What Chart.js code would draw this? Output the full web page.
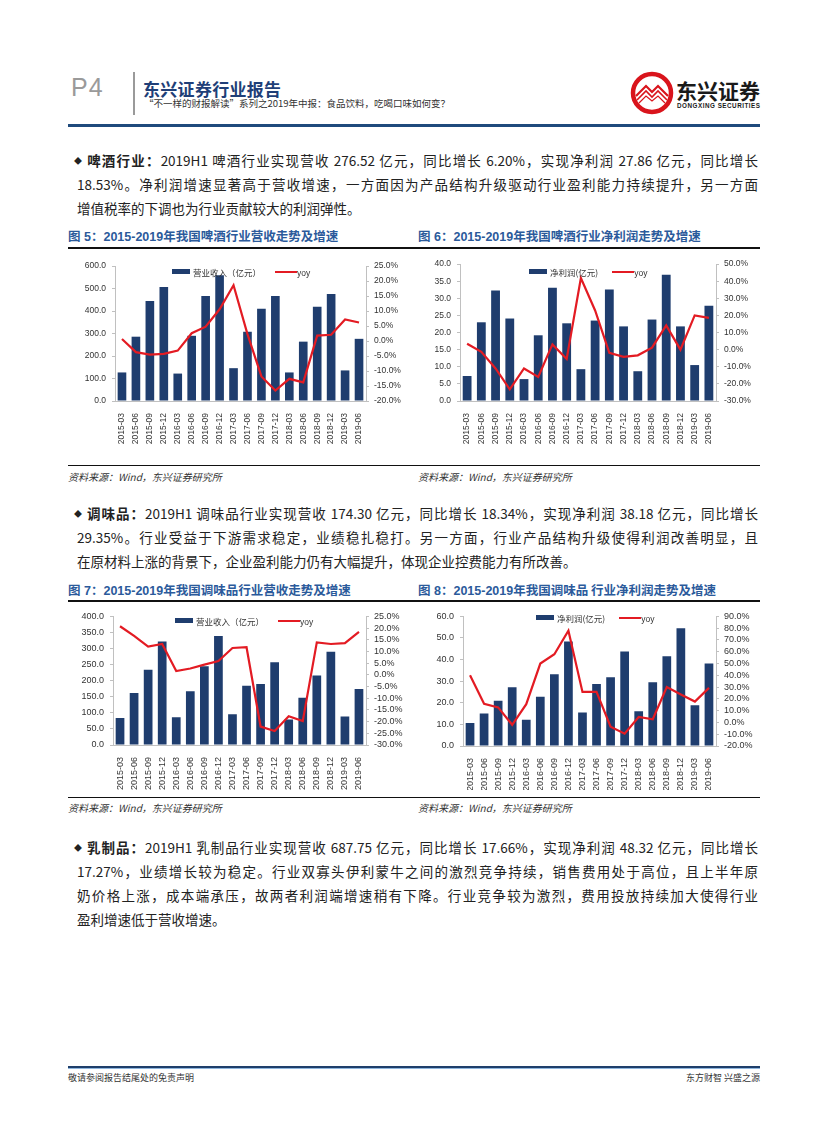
<!DOCTYPE html>
<html><head><meta charset="utf-8">
<script src="https://cdn.jsdelivr.net/npm/chart.js@4/dist/chart.umd.min.js"></script>
<style>
html,body{margin:0;padding:0;background:#fff;}
body{width:827px;height:1122px;position:relative;overflow:hidden;font-family:"Noto Sans CJK SC","Liberation Sans",sans-serif;color:#222;}
.abs{position:absolute;}
.p4{left:71px;top:73px;font-family:"Liberation Sans",Arial,sans-serif;font-size:25px;color:#9a9a9a;font-weight:300;letter-spacing:1px;}
.vline{left:133px;top:72px;width:2px;height:43px;background:#9a9a9a;}
.title{left:143px;top:76px;font-size:17px;font-weight:bold;color:#1f3f78;letter-spacing:0.3px;}
.sub{left:144px;top:96px;font-size:9.5px;color:#333;font-family:"Noto Sans CJK SC";}
.topline{left:68px;top:124px;width:692px;height:3px;background:#1f4a7c;}
.line{position:absolute;left:77px;width:681px;height:24px;line-height:24px;font-size:13.5px;text-align:justify;text-align-last:justify;white-space:nowrap;}
.line.first{left:74px;width:684px;}
.line.last{text-align-last:left;}
.bullet{font-size:8px;vertical-align:2px;margin-right:4px;}
b{font-weight:bold;}
.cap{position:absolute;height:16px;line-height:16px;font-size:12.5px;font-weight:bold;color:#2b5a9b;font-family:"Liberation Sans","Noto Sans CJK SC",sans-serif;}
.cap .cn{font-family:"Noto Sans CJK SC";}
.hl{position:absolute;left:68px;width:692px;background:#111;}
.src{position:absolute;font-size:10px;font-style:italic;color:#333;height:14px;line-height:14px;}
canvas{position:absolute;}
.leg{position:absolute;font-size:8.5px;color:#333;height:12px;line-height:12px;white-space:nowrap;}
.leg .sq{display:inline-block;width:18px;height:5px;background:#1f3d6e;vertical-align:2px;margin-right:3px;}
.leg .ln{display:inline-block;width:22px;height:2.5px;background:#e31b23;vertical-align:3px;margin-left:14px;}
.leg .yy{font-family:"Liberation Sans",Arial,sans-serif;}
.foot{position:absolute;top:1071px;font-size:9px;color:#333;}
</style></head><body>

<div class="abs p4">P4</div>
<div class="abs vline"></div>
<div class="abs title">东兴证券行业报告</div>
<div class="abs sub">“不一样的财报解读”系列之2019年中报：食品饮料，吃喝口味如何变？</div>
<svg class="abs" style="left:628px;top:70px" width="135" height="48" viewBox="0 0 135 48">
  <circle cx="24" cy="23" r="19" fill="none" stroke="#d9141c" stroke-width="4.5"/>
  <path d="M8 26 L18 16 L24 22 L30 16 L40 26" fill="none" stroke="#d9141c" stroke-width="2.2"/>
  <path d="M9 30 L18 21 L24 27 L30 21 L39 30" fill="none" stroke="#d9141c" stroke-width="1.6"/>
  <path d="M11 33 L18 26 L24 31 L30 26 L37 33" fill="none" stroke="#d9141c" stroke-width="1.2"/>
  <text x="48" y="29" font-family="Noto Sans CJK SC" font-weight="bold" font-size="21" fill="#1a1a1a">东兴证券</text>
  <text x="49" y="38" font-family="Liberation Sans" font-weight="bold" font-size="6.3" fill="#1a1a1a" textLength="83">DONGXING SECURITIES</text>
</svg>
<div class="abs topline"></div>

<div class="line first" style="top:148px"><span class="bullet">◆</span><b>啤酒行业：</b>2019H1 啤酒行业实现营收 276.52 亿元，同比增长 6.20%，实现净利润 27.86 亿元，同比增长</div>
<div class="line" style="top:172px">18.53%。净利润增速显著高于营收增速，一方面因为产品结构升级驱动行业盈利能力持续提升，另一方面</div>
<div class="line last" style="top:196px">增值税率的下调也为行业贡献较大的利润弹性。</div>

<div class="cap" style="left:68px;top:228px"><span class="cn">图</span> 5：2015-2019<span class="cn">年我国啤酒行业营收走势及增速</span></div>
<div class="cap" style="left:418px;top:228px"><span class="cn">图</span> 6：2015-2019<span class="cn">年我国啤酒行业净利润走势及增速</span></div>
<div class="hl" style="top:247px;height:1.5px"></div>

<canvas id="c1" width="340" height="190" style="left:68px;top:255px"></canvas>
<canvas id="c2" width="340" height="192" style="left:418px;top:253px"></canvas>
<div class="leg" style="left:172px;top:266px"><span class="sq"></span>营业收入（亿元）<span class="ln"></span><span class="yy">yoy</span></div>
<div class="leg" style="left:529px;top:266px"><span class="sq"></span>净利润(亿元)<span class="ln"></span><span class="yy">yoy</span></div>

<div class="hl" style="top:465px;height:1px"></div>
<div class="src" style="left:68px;top:470px">资料来源：Wind，东兴证券研究所</div>
<div class="src" style="left:418px;top:470px">资料来源：Wind，东兴证券研究所</div>

<div class="line first" style="top:501px"><span class="bullet">◆</span><b>调味品：</b>2019H1 调味品行业实现营收 174.30 亿元，同比增长 18.34%，实现净利润 38.18 亿元，同比增长</div>
<div class="line" style="top:525px">29.35%。行业受益于下游需求稳定，业绩稳扎稳打。另一方面，行业产品结构升级使得利润改善明显，且</div>
<div class="line last" style="top:549px">在原材料上涨的背景下，企业盈利能力仍有大幅提升，体现企业控费能力有所改善。</div>

<div class="cap" style="left:68px;top:582px"><span class="cn">图</span> 7：2015-2019<span class="cn">年我国调味品行业营收走势及增速</span></div>
<div class="cap" style="left:418px;top:582px"><span class="cn">图</span> 8：2015-2019<span class="cn">年我国调味品 行业净利润走势及增速</span></div>
<div class="hl" style="top:600px;height:1.5px"></div>

<canvas id="c3" width="340" height="185" style="left:68px;top:605px"></canvas>
<canvas id="c4" width="340" height="185" style="left:418px;top:605px"></canvas>
<div class="leg" style="left:175px;top:615px"><span class="sq"></span>营业收入（亿元）<span class="ln"></span><span class="yy">yoy</span></div>
<div class="leg" style="left:536px;top:612px"><span class="sq"></span>净利润(亿元)<span class="ln"></span><span class="yy">yoy</span></div>

<div class="hl" style="top:797px;height:1px"></div>
<div class="src" style="left:68px;top:801px">资料来源：Wind，东兴证券研究所</div>
<div class="src" style="left:418px;top:801px">资料来源：Wind，东兴证券研究所</div>

<div class="line first" style="top:835px"><span class="bullet">◆</span><b>乳制品：</b>2019H1 乳制品行业实现营收 687.75 亿元，同比增长 17.66%，实现净利润 48.32 亿元，同比增长</div>
<div class="line" style="top:859px">17.27%，业绩增长较为稳定。行业双寡头伊利蒙牛之间的激烈竞争持续，销售费用处于高位，且上半年原</div>
<div class="line" style="top:883px">奶价格上涨，成本端承压，故两者利润端增速稍有下降。行业竞争较为激烈，费用投放持续加大使得行业</div>
<div class="line last" style="top:907px">盈利增速低于营收增速。</div>

<div class="abs" style="left:68px;top:1066px;width:692px;height:2px;background:#1f3f6b"></div>
<div class="abs" style="left:68px;top:1068px;width:692px;height:1px;background:#8fb6de"></div>
<div class="foot" style="left:68px">敬请参阅报告结尾处的免责声明</div>
<div class="foot" style="right:67px">东方财智 兴盛之源</div>

<script>
const categories = ['2015-03','2015-06','2015-09','2015-12','2016-03','2016-06','2016-09','2016-12','2017-03','2017-06','2017-09','2017-12','2018-03','2018-06','2018-09','2018-12','2019-03','2019-06'];

const beerRevenue    = [127,286,445,507,122,290,467,559,146,308,410,467,127,264,419,476,136,276.52];
const beerRevenueYoy = [0.7,-3.7,-4.5,-4.3,-3.2,2.6,4.8,10.6,18.6,2.3,-11.8,-16.5,-12.6,-13.8,1.8,2.1,7.2,6.2];
const beerProfit     = [7.3,23.0,32.3,24.1,6.4,19.2,33.1,22.7,9.3,23.5,32.6,21.8,8.7,23.8,36.9,21.8,10.5,27.86];
const beerProfitYoy  = [3.5,-1.3,-11,-23.2,-11,-15.9,3.1,-5.4,41.9,22.9,-1.9,-4.2,-3.3,1.2,14.2,0,20,18.53];
const seasonRevenue    = [84,162,234,322,86,167,245,339,96,184,190,257,79,147,216,290,89,174.3];
const seasonRevenueYoy = [20.8,16.7,12.1,13.2,1.6,2.7,4.4,5.9,11.5,11.8,-22.1,-24,-17.7,-19.8,13.9,13.2,13.6,18.34];
const seasonProfit     = [10.6,15.0,21.0,27.2,12.2,22.8,33.2,48.4,15.5,28.7,31.8,43.8,16.1,29.5,41.5,54.5,18.9,38.18];
const seasonProfitYoy  = [40.1,15.8,12.8,-2,15.5,50,57.9,77.8,25.9,25.9,-3.6,-9.6,4.6,2.7,30,23.7,17.7,29.35];

// axis ranges: [min, max, step]
const beerRevenueAxis = [0, 600, 100],  beerRevenueYoyAxis = [-20, 25, 5];
const beerProfitAxis  = [0, 40, 5],     beerProfitYoyAxis  = [-30, 50, 10];
const seasonRevenueAxis = [0, 400, 50], seasonRevenueYoyAxis = [-30, 25, 5];
const seasonProfitAxis  = [0, 60, 10],  seasonProfitYoyAxis  = [-20, 90, 10];

Chart.defaults.font.family = '"Liberation Sans", Arial, sans-serif';
Chart.defaults.color = '#333';

function build(id, bars, yoy, lAxis, rAxis, lay){
  const axisCol = '#c0c0c0';
  new Chart(document.getElementById(id), {
    data: {
      labels: categories,
      datasets: [
        {type:'line', data:yoy, yAxisID:'y1', borderColor:'#e31b23', borderWidth:2.2, pointRadius:0, tension:0, order:0},
        {type:'bar', data:bars, yAxisID:'y', backgroundColor:'#1f3d6e', categoryPercentage:1, barPercentage:0.62, order:1}
      ]
    },
    options: {
      responsive:false, animation:false, devicePixelRatio:1,
      layout:{padding:{top:lay.top, left:0, right:0, bottom:0}},
      plugins:{legend:{display:false}, tooltip:{enabled:false}},
      scales:{
        x:{grid:{display:false}, border:{display:true,color:axisCol},
           ticks:{minRotation:90,maxRotation:90,autoSkip:false,font:{size:lay.fs},padding:4},
           afterFit:s=>{s.height=lay.xh;}},
        y:{position:'left', min:lAxis[0], max:lAxis[1],
           ticks:{stepSize:lAxis[2], autoSkip:false, font:{size:lay.fs}, padding:6, callback:v=>Number(v).toFixed(1)},
           grid:{display:true, drawOnChartArea:false, drawTicks:true, tickLength:3, color:axisCol},
           border:{display:true,color:axisCol},
           afterFit:s=>{s.width=lay.lw;}},
        y1:{position:'right', min:rAxis[0], max:rAxis[1],
           ticks:{stepSize:rAxis[2], autoSkip:false, font:{size:lay.fs}, padding:5, callback:v=>Number(v).toFixed(1)+'%'},
           grid:{display:true, drawOnChartArea:false, drawTicks:true, tickLength:3, color:axisCol},
           border:{display:true,color:axisCol},
           afterFit:s=>{s.width=lay.rw;}}
      }
    }
  });
}

build('c1', beerRevenue, beerRevenueYoy, beerRevenueAxis, beerRevenueYoyAxis, {top:10, xh:44, lw:47, rw:42, fs:8.5});
build('c2', beerProfit, beerProfitYoy, beerProfitAxis, beerProfitYoyAxis, {top:10, xh:44, lw:42, rw:42, fs:8.5});
build('c3', seasonRevenue, seasonRevenueYoy, seasonRevenueAxis, seasonRevenueYoyAxis, {top:8, xh:45, lw:45, rw:42, fs:9});
build('c4', seasonProfit, seasonProfitYoy, seasonProfitAxis, seasonProfitYoyAxis, {top:7, xh:44, lw:45, rw:42, fs:9});
</script>
</body></html>
